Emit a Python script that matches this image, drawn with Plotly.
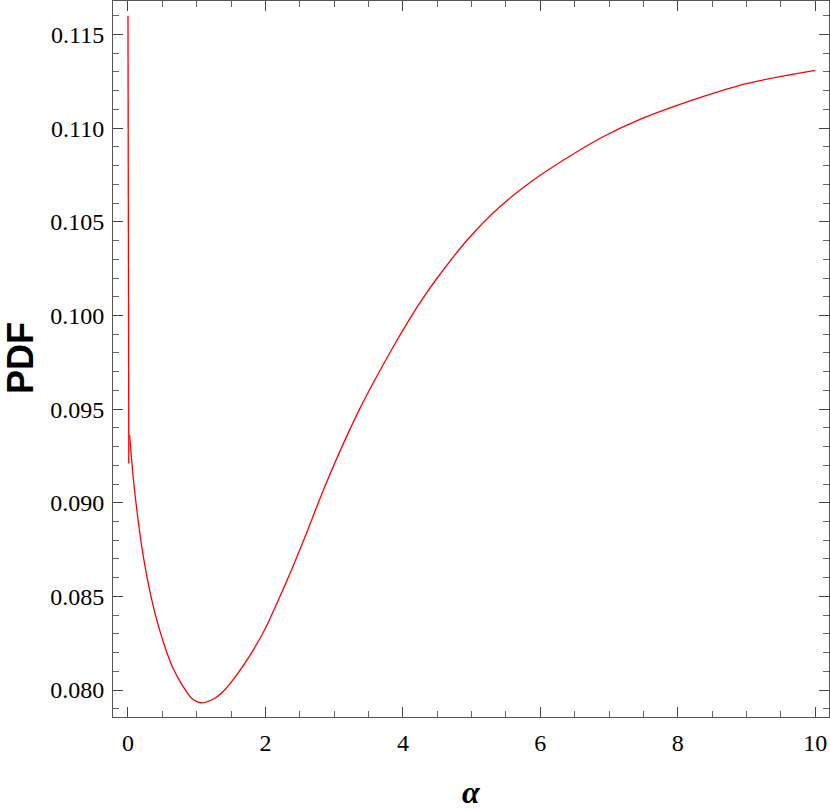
import plotly.graph_objects as go

# Spike near alpha = 0
spike_alpha = [0.0, 0.012]
spike_pdf = [0.1160, 0.0921]

# Main curve
alpha = [0.025, 0.08, 0.15, 0.22, 0.30, 0.40, 0.52, 0.65, 0.80, 0.93,
         1.068, 1.262, 1.407, 1.6, 1.8, 2.0, 2.2, 2.4, 2.6, 2.89, 3.37, 3.86, 4.10,
         4.30, 4.50, 4.93, 5.41, 5.90, 6.38, 6.87, 7.45, 8.32, 9.0, 10.0]
pdf = [0.0936, 0.0912, 0.0890, 0.0872, 0.0856, 0.0840, 0.0825, 0.0812, 0.0802, 0.07955,
       0.07932, 0.07956, 0.0800, 0.0809, 0.0820, 0.0833, 0.0849, 0.0866, 0.0884, 0.0911, 0.0950,
       0.09833, 0.09982, 0.10096, 0.1020, 0.1040, 0.1058, 0.10723, 0.10839, 0.10946, 0.11047,
       0.11163, 0.11238, 0.11308]

x_ticks = [0, 2, 4, 6, 8, 10]
y_ticks = [0.080, 0.085, 0.090, 0.095, 0.100, 0.105, 0.110, 0.115]

fig = go.Figure()
fig.add_trace(go.Scatter(x=spike_alpha, y=spike_pdf, mode="lines",
                         line=dict(color="red", width=1.3), showlegend=False))
fig.add_trace(go.Scatter(x=alpha, y=pdf, mode="lines",
                         line=dict(color="red", width=1.3, shape="spline", smoothing=0.9),
                         showlegend=False))

tick_font = dict(family="Liberation Serif, Times New Roman, serif", size=24, color="black")

fig.update_xaxes(
    range=[-0.218, 10.2], tickvals=x_ticks, ticktext=[str(v) for v in x_ticks],
    ticks="inside", ticklen=10, tickcolor="#444", tickwidth=1,
    showline=True, linecolor="#555", linewidth=1, mirror="allticks",
    showgrid=False, zeroline=False, tickfont=tick_font, ticklabelstandoff=4,
    automargin=False,
    minor=dict(dtick=0.5, tick0=0, ticks="inside", ticklen=6, tickcolor="#666", tickwidth=1),
)
fig.update_yaxes(
    range=[0.07856, 0.11679], tickvals=y_ticks, ticktext=[f"{v:.3f}" for v in y_ticks],
    ticks="inside", ticklen=10, tickcolor="#444", tickwidth=1,
    showline=True, linecolor="#555", linewidth=1, mirror="allticks",
    showgrid=False, zeroline=False, tickfont=tick_font, ticklabelstandoff=3,
    automargin=False,
    minor=dict(dtick=0.001, tick0=0.08, ticks="inside", ticklen=6, tickcolor="#666", tickwidth=1),
)

fig.add_annotation(text="<b><i>α</i></b>", xref="paper", yref="paper", x=0.5, y=-0.1047,
                   showarrow=False, xanchor="center", yanchor="middle",
                   font=dict(family="Liberation Serif, Times New Roman, serif", size=32, color="black"))
fig.add_annotation(text="<b>PDF</b>", xref="paper", yref="paper", x=-0.129, y=0.501,
                   showarrow=False, xanchor="center", yanchor="middle", textangle=-90,
                   font=dict(family="Liberation Sans, Arial, sans-serif", size=36, color="black"))

fig.update_layout(
    width=830, height=810,
    margin=dict(l=113, r=1, t=1, b=93, autoexpand=False),
    paper_bgcolor="white", plot_bgcolor="white",
)

fig.write_html(
    "out.html",
    config={"displayModeBar": False},
    post_script="document.body.style.margin='0';document.body.style.padding='0';"
                "document.body.style.overflow='hidden';",
)
